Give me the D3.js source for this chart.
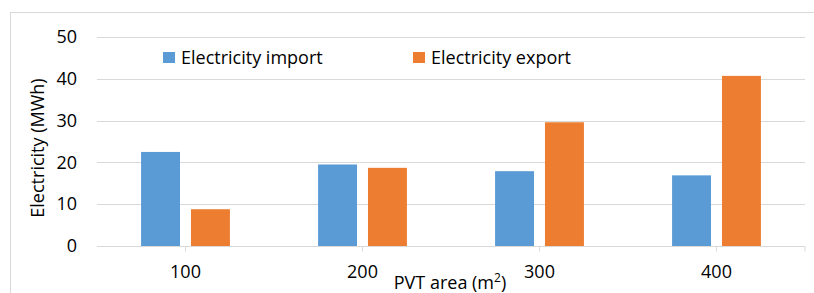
<!DOCTYPE html>
<html>
<head>
<meta charset="utf-8">
<script src="https://cdn.jsdelivr.net/npm/d3@7"></script>
<style>
  body { margin: 0; background: #fff; }
  text { font-family: "Open Sans", "Noto Sans", sans-serif; fill: #000; }
  .grid line { stroke: #d9d9d9; }
</style>
</head>
<body>
<div id="chart"></div>
<script>
// PVT area categories and electricity values (MWh)
const areas = ['100', '200', '300', '400'];
const importValues = [22.5, 19.5, 17.9, 16.9];
const exportValues = [8.8, 18.7, 29.6, 40.7];
const yTicks = [0, 10, 20, 30, 40, 50];
const seriesNames = ['Electricity import', 'Electricity export'];
const seriesColors = ['#5b9bd5', '#ed7d31'];

const W = 814, H = 293;
const margin = { top: 37, right: 9, bottom: 47, left: 97 };
const width = W - margin.left - margin.right;
const height = H - margin.top - margin.bottom;

const svg = d3.select('#chart').append('svg')
    .attr('width', W)
    .attr('height', H);

// chart frame (runs off the right and bottom of the picture)
svg.append('rect')
    .attr('x', 10.5).attr('y', 12.5)
    .attr('width', W).attr('height', H)
    .attr('fill', 'none')
    .attr('stroke', '#d9d9d9');

const g = svg.append('g')
    .attr('transform', 'translate(' + margin.left + ',' + margin.top + ')');

const xScale = d3.scaleBand().domain(areas).range([0, width]);
const yScale = d3.scaleLinear().domain([0, 50]).range([height, 0]);

// gridlines
g.append('g').classed('grid', true)
    .selectAll('line')
    .data(yTicks.filter(d => d > 0))
    .enter().append('line')
    .attr('x1', 0).attr('x2', width)
    .attr('y1', d => Math.round(yScale(d)) + 0.5)
    .attr('y2', d => Math.round(yScale(d)) + 0.5);

// y axis labels
let yAxis = d3.axisLeft(yScale).tickValues(yTicks).tickSize(0).tickPadding(20);
let yG = g.append('g').call(yAxis);
yG.select('.domain').remove();
yG.selectAll('text').style('font-size', '18px').attr('fill', '#000');

// bars
const barW = xScale.bandwidth() * 0.22;
const gap = xScale.bandwidth() * 0.062;
const data = [];
areas.forEach((a, i) => {
    data.push({ area: a, s: 0, value: importValues[i] });
    data.push({ area: a, s: 1, value: exportValues[i] });
});
g.append('g').selectAll('rect')
    .data(data)
    .enter().append('rect')
    .attr('x', d => xScale(d.area) + xScale.bandwidth() / 2 + (d.s === 0 ? -gap / 2 - barW : gap / 2))
    .attr('y', d => yScale(d.value))
    .attr('width', barW)
    .attr('height', d => height - yScale(d.value))
    .attr('fill', d => seriesColors[d.s]);

// x axis
let xAxis = d3.axisBottom(xScale).tickSize(5).tickPadding(14);
let xG = g.append('g')
    .attr('transform', 'translate(0,' + (Math.round(height) + 0.5) + ')')
    .call(xAxis);
xG.select('.domain').attr('stroke', '#d9d9d9').attr('d', 'M0,0H' + width + 'V5');
xG.selectAll('.tick line').attr('stroke', '#d9d9d9');
xG.selectAll('text').style('font-size', '18px').attr('fill', '#000');

// axis titles
svg.append('text')
    .attr('transform', 'translate(44,' + 148 + ') rotate(-90)')
    .attr('text-anchor', 'middle')
    .style('font-size', '18px')
    .text('Electricity (MWh)');

let xt = svg.append('text')
    .attr('x', 450).attr('y', 289)
    .attr('text-anchor', 'middle')
    .style('font-size', '18px');
xt.append('tspan').text('PVT area (m');
xt.append('tspan').attr('dy', -7).style('font-size', '12px').text('2');
xt.append('tspan').attr('dy', 7).text(')');

// legend
const legendX = [163, 413];
const legend = svg.append('g').selectAll('g')
    .data(seriesNames)
    .enter().append('g')
    .attr('transform', (d, i) => 'translate(' + legendX[i] + ',52)');
legend.append('rect')
    .attr('width', 12).attr('height', 11)
    .attr('fill', (d, i) => seriesColors[i]);
legend.append('text')
    .attr('x', 18).attr('y', 12)
    .style('font-size', '18px')
    .text(d => d);
</script>
</body>
</html>
